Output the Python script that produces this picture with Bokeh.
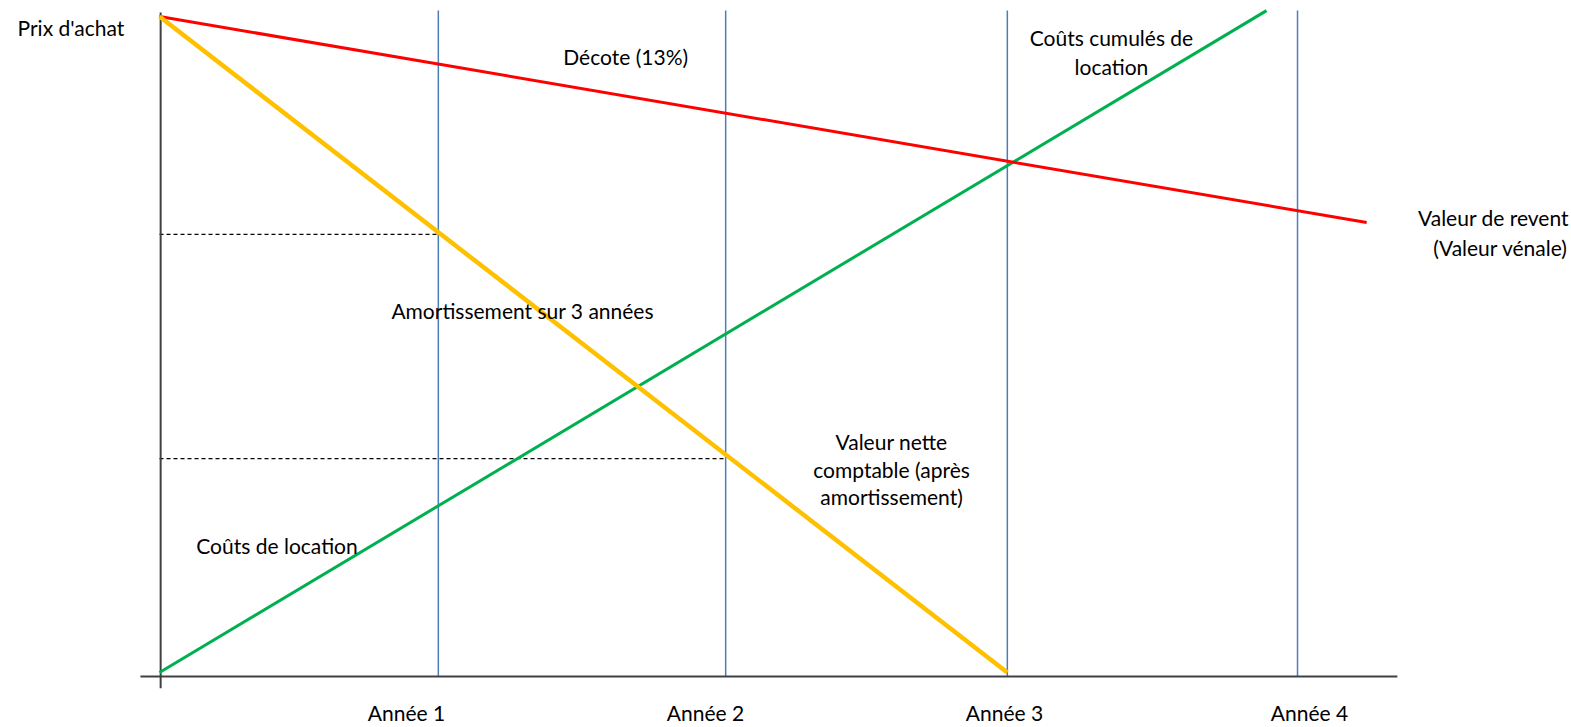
from bokeh.plotting import figure
from bokeh.models import Range1d
from bokeh.core.properties import value
from bokeh.embed import file_html
from bokeh.resources import INLINE

# ---- data (x in years, y in % of purchase price) ----
year_lines = [0.98, 1.99, 2.98, 4.00]
year_labels = ["Année 1", "Année 2", "Année 3", "Année 4"]
year_label_x = [0.868, 1.919, 2.970, 4.042]

resale_x = [0.0, 4.243]        # Valeur de revent (décote)
resale_y = [100.0, 68.6]
book_x = [0.0, 2.98]           # Valeur nette comptable
book_y = [100.0, 0.0]
rent_x = [0.0, 3.891]          # Coûts cumulés de location
rent_y = [0.0, 100.9]

dash_levels = [66.8, 32.6]     # book value after year 1 and year 2
dash_end = [0.98, 1.99]

y_top = 100.9
x_axis_y = -0.6

labels = [
    ("Prix d'achat", -0.499, 98.3, "left"),
    ("Décote  (13%)", 1.648, 93.9, "center"),
    ("Coûts cumulés de", 3.346, 96.8, "center"),
    ("location", 3.346, 92.4, "center"),
    ("Valeur de revent", 4.954, 69.4, "right"),
    ("(Valeur vénale)", 4.950, 64.8, "right"),
    ("Amortissement  sur 3 années", 1.286, 55.2, "center"),
    ("Valeur nette", 2.573, 35.2, "center"),
    ("comptable (après", 2.573, 31.0, "center"),
    ("amortissement)", 2.573, 26.9, "center"),
    ("Coûts de location", 0.413, 19.4, "center"),
]

W, H = 1571, 727
p = figure(width=W, height=H, output_backend="svg", toolbar_location=None,
           x_axis_type=None, y_axis_type=None,
           x_range=Range1d(-0.5589, 4.963), y_range=Range1d(-8.384, 102.44),
           min_border=0)
p.outline_line_color = None
p.xgrid.visible = False
p.ygrid.visible = False
p.background_fill_color = "white"

FONT = value("Lato")
FS = "21px"

# vertical year lines
for xv in year_lines:
    p.line([xv, xv], [x_axis_y, y_top], line_color="#4A7EBB", line_width=1.5)

# dashed reference lines
for lvl, xe in zip(dash_levels, dash_end):
    p.line([0, xe], [lvl, lvl], line_color="black", line_width=1.3, line_dash="4 3")

# axes
p.line([-0.067, 4.351], [x_axis_y, x_axis_y], line_color="#404040", line_width=2)
p.line([0.004, 0.004], [-2.4, y_top - 0.3], line_color="#404040", line_width=2)

# series
p.line(rent_x, rent_y, line_color="#00B050", line_width=3)
p.line(resale_x, resale_y, line_color="#FF0000", line_width=3)
p.line(book_x, book_y, line_color="#FFC000", line_width=4.5)

# labels
for txt, x, y, al in labels:
    p.text(x=[x], y=[y], text=[txt], text_font=FONT, text_font_size=FS,
           text_align=al, text_baseline="middle", text_color="black")

p.text(x=year_label_x, y=[-6.1] * 4, text=year_labels, text_font=FONT,
       text_font_size=FS, text_align="center", text_baseline="middle",
       text_color="black")

open("out.html", "w").write(file_html(p, INLINE))
